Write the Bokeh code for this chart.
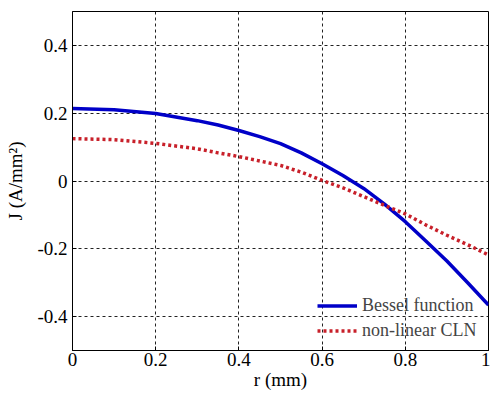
from bokeh.plotting import figure
from bokeh.models import Range1d, FixedTicker, Legend, LegendItem, CustomJSTickFormatter
from bokeh.embed import file_html
from bokeh.resources import INLINE

# ---- data ----
r_values = [0.0, 0.1, 0.2, 0.3, 0.35, 0.4, 0.45, 0.5, 0.55, 0.6, 0.65, 0.7, 0.75,
            0.8, 0.85, 0.9, 0.95, 1.0]
j_bessel = [0.214, 0.210, 0.199, 0.178, 0.165, 0.149, 0.131, 0.110, 0.083, 0.051,
            0.016, -0.022, -0.068, -0.120, -0.178, -0.236, -0.300, -0.366]
j_cln = [0.125, 0.122, 0.111, 0.095, 0.083, 0.072, 0.059, 0.046, 0.026, 0.002,
         -0.020, -0.046, -0.072, -0.097, -0.130, -0.160, -0.188, -0.218]

x_ticks = [0, 0.2, 0.4, 0.6, 0.8, 1]
x_tick_labels = ["0", "0.2", "0.4", "0.6", "0.8", "1"]
y_ticks = [-0.4, -0.2, 0, 0.2, 0.4]
y_tick_labels = ["-0.4", "-0.2", "0", "0.2", "0.4"]

series_names = ["Bessel function", "non-linear CLN"]
x_title = "r (mm)"
y_title = "J (A/mm²)"

FONT = "Liberation Serif"

p = figure(width=490, height=392, output_backend="svg", toolbar_location=None,
           x_range=Range1d(0, 1), y_range=Range1d(-0.5, 0.5),
           min_border_left=72, min_border_right=2, min_border_top=11, min_border_bottom=41)

p.outline_line_color = "black"
p.outline_line_width = 1
p.background_fill_color = "white"
p.border_fill_color = "white"

fmt_code = """
for (let i = 0; i < tvals.length; i++) {
    if (Math.abs(tvals[i] - tick) < 1e-9) { return tlabels[i]; }
}
return String(tick);
"""
p.xaxis.formatter = CustomJSTickFormatter(args=dict(tvals=x_ticks, tlabels=x_tick_labels), code=fmt_code)
p.yaxis.formatter = CustomJSTickFormatter(args=dict(tvals=y_ticks, tlabels=y_tick_labels), code=fmt_code)
p.xaxis.ticker = FixedTicker(ticks=x_ticks)
p.yaxis.ticker = FixedTicker(ticks=y_ticks)

for ax in [p.xaxis[0], p.yaxis[0]]:
    ax.axis_line_color = "black"
    ax.major_tick_in = 4
    ax.major_tick_out = 0
    ax.minor_tick_line_color = None
    ax.major_tick_line_color = "black"
    ax.major_label_text_font = FONT
    ax.major_label_text_font_size = "19px"
    ax.major_label_text_color = "black"
    ax.axis_label_text_font = FONT
    ax.axis_label_text_font_size = "19px"
    ax.axis_label_text_font_style = "normal"
    ax.axis_label_text_color = "black"

p.xaxis.major_label_standoff = 2
p.yaxis.major_label_standoff = 5
p.xaxis.axis_label = x_title
p.yaxis.axis_label = y_title
p.xaxis.axis_label_standoff = 0
p.yaxis.axis_label_standoff = 8

p.grid.grid_line_color = "#222222"
p.grid.grid_line_dash = "3 3"
p.grid.grid_line_width = 1

r1 = p.line(r_values, j_bessel, line_color="#0000c8", line_width=3.5)
r2 = p.line(r_values, j_cln, line_color="#c8202a", line_width=3.5, line_dash="3 3")

legend = Legend(items=[LegendItem(label=series_names[0], renderers=[r1]),
                       LegendItem(label=series_names[1], renderers=[r2])],
                location=(245, 7), padding=0, margin=0, spacing=0,
                glyph_width=40, glyph_height=25, label_height=25, label_standoff=5,
                background_fill_alpha=0, border_line_alpha=0,
                label_text_font=FONT, label_text_font_size="18px")
p.add_layout(legend, "center")

open("out.html", "w").write(file_html(p, INLINE))
